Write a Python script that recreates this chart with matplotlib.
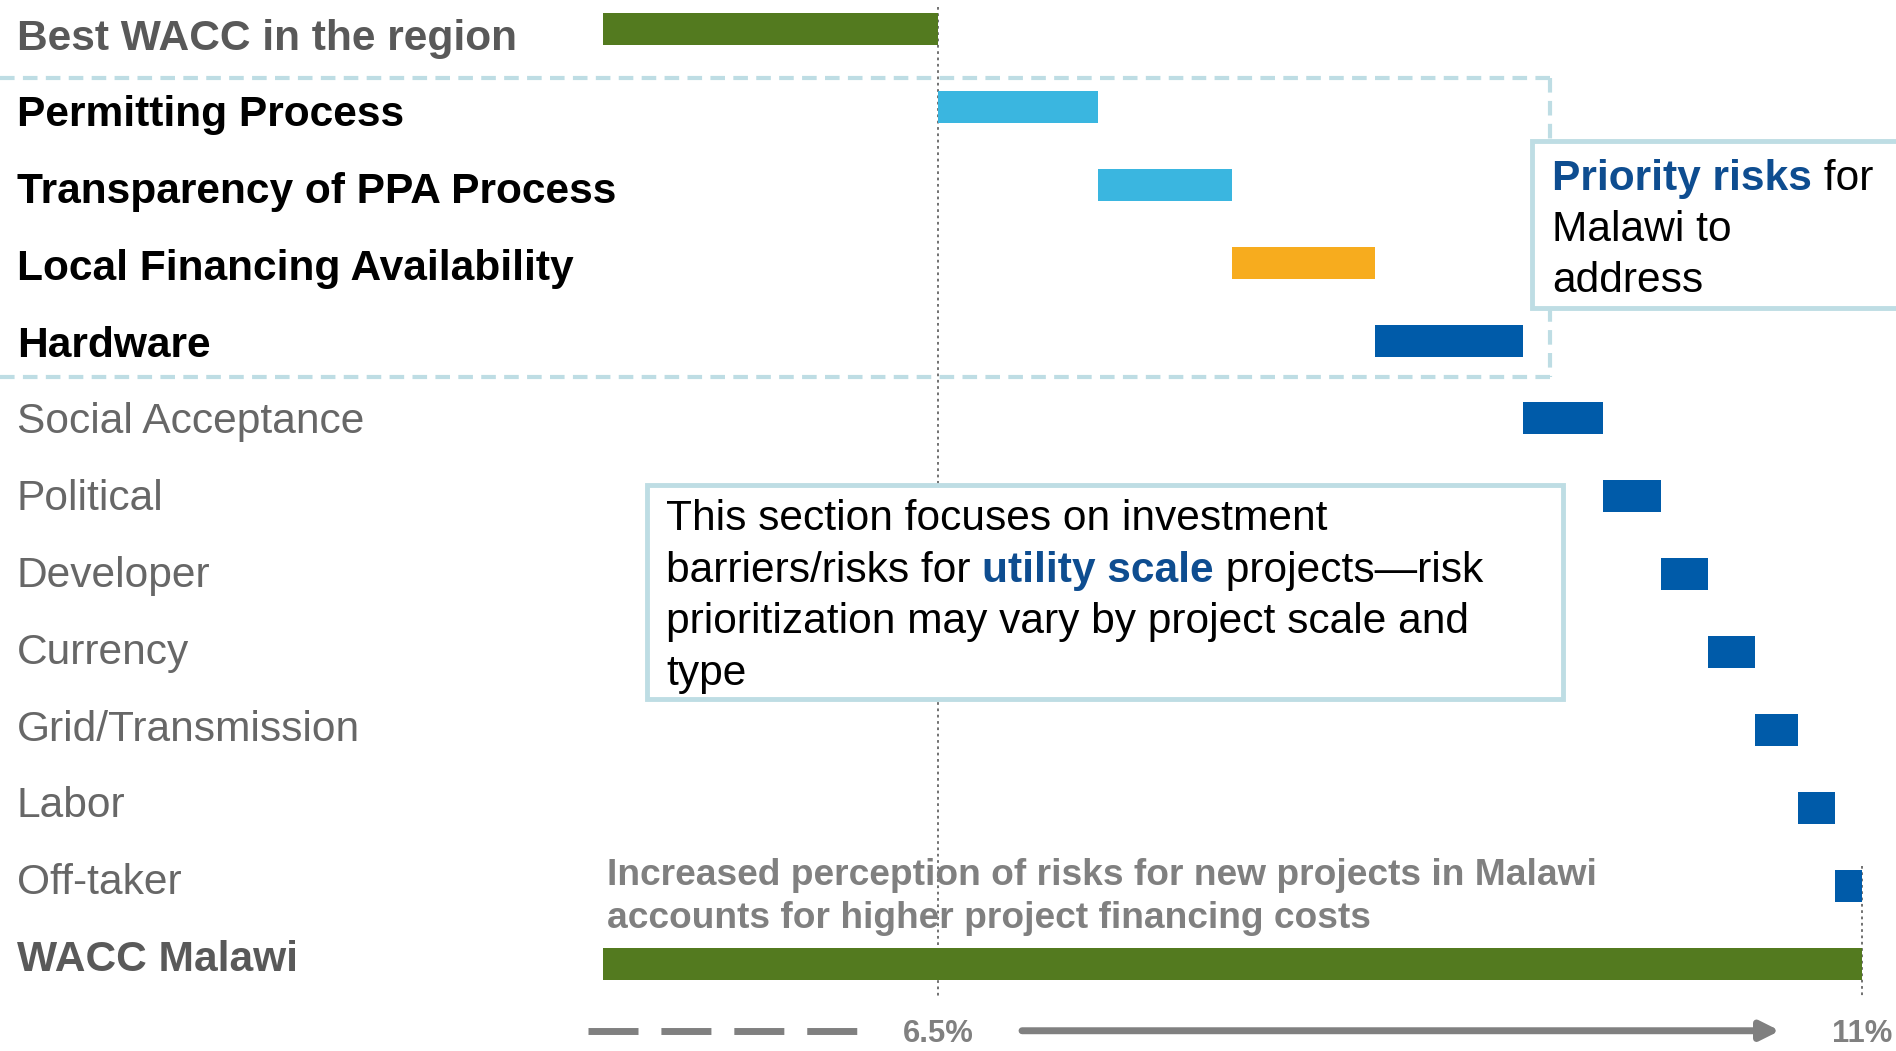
import numpy as np
import matplotlib
matplotlib.use("Agg")
import matplotlib.pyplot as plt
from matplotlib import transforms
from matplotlib.patches import Rectangle

plt.rcParams['font.family'] = ['Liberation Sans', 'DejaVu Sans']

# data
categories = ['Best WACC in the region', 'Permitting Process', 'Transparency of PPA Process',
              'Local Financing Availability', 'Hardware', 'Social Acceptance', 'Political',
              'Developer', 'Currency', 'Grid/Transmission', 'Labor', 'Off-taker', 'WACC Malawi']
best_wacc = 6.5
malawi_wacc = 11.0
risk_premiums = [0.78, 0.65, 0.70, 0.72, 0.39, 0.28, 0.23, 0.23, 0.21, 0.18, 0.13]
risk_colors = ['#3AB6E0', '#3AB6E0', '#F7AC1E', '#005BA9', '#005BA9', '#005BA9',
               '#005BA9', '#005BA9', '#005BA9', '#005BA9', '#005BA9']
label_style = ['total', 'priority', 'priority', 'priority', 'priority', 'other', 'other',
               'other', 'other', 'other', 'other', 'other', 'total']
tick_labels = ['6.5%', '11%']

GREEN = '#537A1F'
BOXBLUE = '#BEDDE4'
TEXTBLUE = '#0E4D90'
GRAY = '#808080'

fig = plt.figure(figsize=(18.96, 10.51), dpi=100)
ax = fig.add_axes([603 / 1896, 0, 1 - 603 / 1896, 1])
ax.set_xlim(4.868, 11.166)
ax.set_ylim(13.12, -0.372)
ax.axis('off')

n = len(categories)
y = np.arange(n)
h = 0.41

# totals
ax.barh(0, best_wacc, height=h, color=GREEN, zorder=3)
ax.barh(n - 1, malawi_wacc, height=h, color=GREEN, zorder=3)

# waterfall
lefts = best_wacc + np.concatenate([[0], np.cumsum(risk_premiums)[:-1]])
ax.barh(y[1:-1], risk_premiums, left=lefts, height=h, color=risk_colors, zorder=3)

# labels on the left (label rows are a touch tighter than the bars)
tr = transforms.blended_transform_factory(fig.transFigure, ax.transData)
styles = {'total': dict(weight='bold', color='#595959'),
          'priority': dict(weight='bold', color='black'),
          'other': dict(weight='normal', color='#676767')}
label_y = 0.123 + y * 0.9856
for yi, lab, st in zip(label_y, categories, label_style):
    fig.text(17 / 1896, yi, lab, transform=tr, va='center', ha='left', fontsize=30.6, **styles[st])

# dotted reference lines
ax.plot([best_wacc, best_wacc], [-0.28, 12.41], ls=(0, (1.5, 2)), color='#666666', lw=1.3, zorder=1, clip_on=False)
ax.plot([malawi_wacc, malawi_wacc], [10.75, 12.41], ls=(0, (1.5, 2)), color='#666666', lw=1.3, zorder=1)

# dashed priority box
dash = (0, (3.5, 2))
xl = 1.931
ax.plot([xl, 9.48], [0.63, 0.63], ls=dash, color=BOXBLUE, lw=3, clip_on=False, zorder=2)
ax.plot([xl, 9.48], [4.47, 4.47], ls=dash, color=BOXBLUE, lw=3, clip_on=False, zorder=2)
ax.plot([9.48, 9.48], [0.63, 4.47], ls=dash, color=BOXBLUE, lw=3, clip_on=False, zorder=2)

# priority callout
ax.add_patch(Rectangle((9.393, 1.438), 2.5, 3.58 - 1.438, facecolor='white', edgecolor=BOXBLUE,
                       lw=3.5, zorder=4, clip_on=False))


def rich_line(x, yy, segs, size, z=6):
    prev = None
    for s, color, weight in segs:
        if prev is None:
            prev = ax.text(x, yy, s, color=color, weight=weight, fontsize=size, va='center', ha='left', zorder=z)
        else:
            prev = ax.annotate(s, xy=(1, 0), xycoords=prev, va='bottom', ha='left',
                               color=color, weight=weight, fontsize=size, zorder=z)


rich_line(9.49, 1.92, [('Priority risks', TEXTBLUE, 'bold'), (' for', 'black', 'normal')], 30.6)
rich_line(9.49, 2.575, [('Malawi to', 'black', 'normal')], 30.6)
rich_line(9.49, 3.24, [('address', 'black', 'normal')], 30.6)

# centre note
ax.add_patch(Rectangle((5.083, 5.854), 9.544 - 5.083, 8.60 - 5.854, facecolor='white', edgecolor=BOXBLUE,
                       lw=3.5, zorder=4))
note = [[('This section focuses on investment', 'black', 'normal')],
        [('barriers/risks for ', 'black', 'normal'), ('utility scale', TEXTBLUE, 'bold'),
         (' projects\u2014risk', 'black', 'normal')],
        [('prioritization may vary by project scale and', 'black', 'normal')],
        [('type', 'black', 'normal')]]
for i, segs in enumerate(note):
    rich_line(5.175, 6.296 + i * 0.661, segs, 30.6)

# bottom annotation
ax.text(4.888, 10.866, 'Increased perception of risks for new projects in Malawi', color=GRAY,
        weight='bold', fontsize=26.75, va='center', ha='left', zorder=5)
ax.text(4.888, 11.416, 'accounts for higher project financing costs', color=GRAY,
        weight='bold', fontsize=26.75, va='center', ha='left', zorder=5)

# bottom scale
ax.plot([4.795, 6.125], [12.86, 12.86], color=GRAY, lw=5, ls=(0, (7.2, 3.3)), clip_on=False, solid_capstyle='butt')
ax.annotate('', xy=(10.60, 12.86), xytext=(6.909, 12.86),
            arrowprops=dict(arrowstyle='-|>', lw=5, color=GRAY, mutation_scale=28, shrinkA=0, shrinkB=0))
ax.text(best_wacc, 12.9, tick_labels[0], color=GRAY, weight='bold', fontsize=22.3, ha='center', va='center')
ax.text(malawi_wacc, 12.9, tick_labels[1], color=GRAY, weight='bold', fontsize=22.3, ha='center', va='center')

fig.savefig('out.png', dpi=100)
